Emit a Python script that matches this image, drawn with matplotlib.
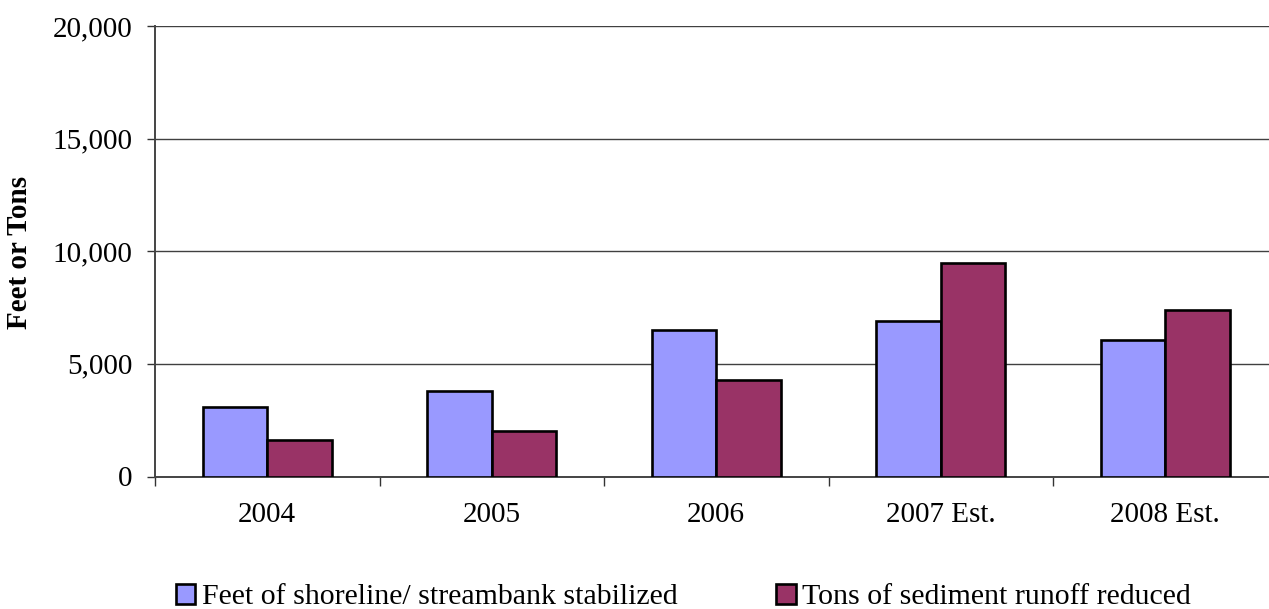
import matplotlib.pyplot as plt
import numpy as np

# chart data
years = ['2004', '2005', '2006', '2007 Est.', '2008 Est.']
feet_stabilized = [3100, 3800, 6500, 6900, 6050]
tons_reduced = [1600, 2000, 4300, 9500, 7400]
series_names = ['Feet of shoreline/ streambank stabilized', 'Tons of sediment runoff reduced']
y_ticks = [0, 5000, 10000, 15000, 20000]

plt.rcParams['font.family'] = ['Liberation Serif', 'DejaVu Serif']
fs = 21

fig = plt.figure(figsize=(12.69, 6.09), dpi=100)
W, H = 1269, 609
ax = fig.add_axes([155 / W, (H - 476.5) / H, (1277.5 - 155) / W, (476.5 - 26) / H])

x = np.arange(len(years))
w = 0.287
ax.bar(x - w / 2, feet_stabilized, width=w, color='#9999FF', edgecolor='black',
       linewidth=1.9, label=series_names[0], zorder=3)
ax.bar(x + w / 2, tons_reduced, width=w, color='#993366', edgecolor='black',
       linewidth=1.9, label=series_names[1], zorder=3)

ax.set_xlim(-0.5, len(years) - 0.5)
ax.set_ylim(0, 20000)
ax.set_yticks(y_ticks)
ax.set_yticklabels([f'{v:,}' for v in y_ticks], fontsize=fs)
ax.yaxis.grid(True, color='#404040', linewidth=1.0, zorder=0)
ax.set_axisbelow(True)

ax.set_xticks(x)
ax.set_xticklabels(years, fontsize=fs)
ax.set_xticks(np.arange(len(years) + 1) - 0.5, minor=True)
ax.tick_params(axis='x', which='major', length=0, pad=18)
ax.tick_params(axis='x', which='minor', length=6.5, width=1, color='#333333')
ax.tick_params(axis='y', length=6, width=1, color='#333333', pad=10)

for s in ['top', 'right']:
    ax.spines[s].set_visible(False)
for s in ['left', 'bottom']:
    ax.spines[s].set_color('#444444')
    ax.spines[s].set_linewidth(1.4)

fig.text(20 / W, 1 - 252 / H, 'Feet or Tons', rotation=90, fontsize=fs,
         fontweight='bold', ha='center', va='center')

fig.legend(loc='center left', bbox_to_anchor=(176 / W, 1 - 597 / H), ncol=2,
           frameon=False, fontsize=21.5, handlelength=0.65, handleheight=0.7,
           handletextpad=0.22, columnspacing=3.3, borderpad=0, borderaxespad=0)

fig.savefig('out.png', dpi=100)
